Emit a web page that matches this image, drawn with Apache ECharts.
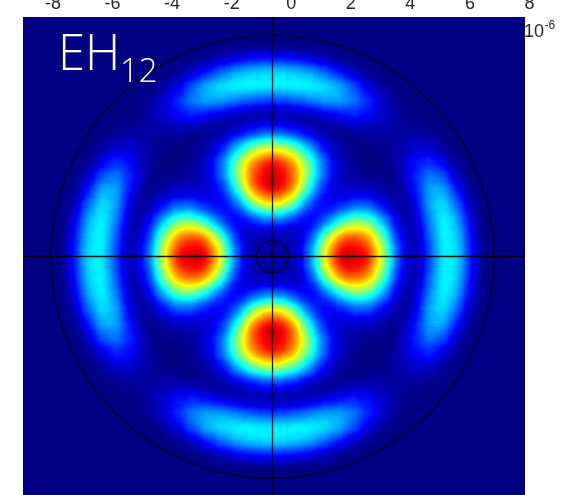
<!DOCTYPE html>
<html>
<head>
<meta charset="utf-8">
<script src="https://cdn.jsdelivr.net/npm/echarts@6/dist/echarts.min.js"></script>
<style>
  html, body { margin: 0; padding: 0; background: #ffffff; }
  #chart { width: 572px; height: 495px; }
</style>
</head>
<body>
<div id="chart"></div>
<script>
// Transverse intensity of the EH12 fibre mode (normalised to 1), sampled every
// 0.5 µm over the first quadrant: row = y index, column = x index.
// The pattern is mirror symmetric about both axes, so the other three
// quadrants reuse these rows.
const gridStep = 0.5; // µm
const intensityQuadrant = [
  [0.06, 0.06, 0.13, 0.44, 0.82, 0.97, 0.94, 0.75, 0.36, 0.09, 0.08, 0.34, 0.47, 0.26, 0.02],
  [0.06, 0.06, 0.12, 0.39, 0.74, 0.89, 0.87, 0.69, 0.32, 0.08, 0.09, 0.37, 0.46, 0.25, 0.02],
  [0.13, 0.12, 0.09, 0.21, 0.44, 0.63, 0.67, 0.52, 0.24, 0.05, 0.12, 0.39, 0.45, 0.21, 0.01],
  [0.44, 0.39, 0.21, 0.13, 0.20, 0.31, 0.39, 0.29, 0.13, 0.02, 0.18, 0.42, 0.40, 0.16, 0.00],
  [0.82, 0.74, 0.44, 0.20, 0.11, 0.14, 0.17, 0.12, 0.05, 0.04, 0.24, 0.42, 0.32, 0.08, 0.00],
  [0.97, 0.89, 0.63, 0.31, 0.14, 0.08, 0.06, 0.04, 0.01, 0.09, 0.27, 0.36, 0.21, 0.03, 0.00],
  [0.94, 0.87, 0.67, 0.39, 0.17, 0.06, 0.02, 0.01, 0.02, 0.12, 0.24, 0.24, 0.09, 0.00, 0.00],
  [0.75, 0.69, 0.52, 0.29, 0.12, 0.04, 0.01, 0.01, 0.04, 0.10, 0.16, 0.12, 0.02, 0.00, 0.00],
  [0.36, 0.32, 0.24, 0.13, 0.05, 0.01, 0.02, 0.04, 0.04, 0.07, 0.07, 0.03, 0.00, 0.00, 0.00],
  [0.09, 0.08, 0.05, 0.02, 0.04, 0.09, 0.12, 0.10, 0.07, 0.03, 0.02, 0.00, 0.00, 0.00, 0.00],
  [0.08, 0.09, 0.12, 0.18, 0.24, 0.27, 0.24, 0.16, 0.07, 0.02, 0.00, 0.00, 0.00, 0.00, 0.00],
  [0.34, 0.37, 0.39, 0.42, 0.42, 0.36, 0.24, 0.12, 0.03, 0.00, 0.00, 0.00, 0.00, 0.00, 0.00],
  [0.47, 0.46, 0.45, 0.40, 0.32, 0.21, 0.09, 0.02, 0.00, 0.00, 0.00, 0.00, 0.00, 0.00, 0.00],
  [0.26, 0.25, 0.21, 0.16, 0.08, 0.03, 0.00, 0.00, 0.00, 0.00, 0.00, 0.00, 0.00, 0.00, 0.00],
  [0.02, 0.02, 0.01, 0.00, 0.00, 0.00, 0.00, 0.00, 0.00, 0.00, 0.00, 0.00, 0.00, 0.00, 0.00]
];

// Guide rings: core boundary and the small ring at the centre (µm).
const ringRadii = [7.45, 0.54];

// Field of view of the mode plot (µm).
const planeX = [-8.39, 8.49];
const planeY = [-8.01, 8.06];

// Scale along the top.
const scaleMin = -8;
const scaleMax = 8;
const scaleStep = 2;
const scaleBase = '10';
const scaleExponent = '-6';

// Mode label.
const modeName = 'EH';
const modeIndex = '12';

// MATLAB "jet" colour map.
const JET = ['#000083', '#0000ff', '#0080ff', '#00ffff', '#80ff80',
             '#ffff00', '#ff8000', '#ff0000', '#800000'];

// The geo heat layer stamps one blurred brush per sample with source-over
// alpha, so neighbouring stamps compound. With pointSize 13 / blurSize 12 on
// a 0.5 µm lattice the brush covers roughly 0.9 of its own sample, 0.36 of
// each edge neighbour and 0.085 of each corner neighbour. Each sample's
// weight is the one whose compounded opacity equals its intensity.
const BRUSH_SHARE = [0.9, 0.36, 0.36, 0.36, 0.36, 0.085, 0.085, 0.085, 0.085];
const stackedOpacity = a => 1 - BRUSH_SHARE.reduce((p, k) => p * (1 - k * a), 1);
function heatWeight(v) {
  if (stackedOpacity(1) <= v) return 1;
  let lo = 0, hi = 1;
  for (let n = 0; n < 32; n++) {
    const mid = (lo + hi) / 2;
    if (stackedOpacity(mid) < v) lo = mid; else hi = mid;
  }
  return (lo + hi) / 2;
}

const heatData = [];
const nRows = intensityQuadrant.length;
for (let j = -(nRows - 1); j <= nRows - 1; j++) {
  const row = intensityQuadrant[Math.abs(j)];
  for (let i = -(row.length - 1); i <= row.length - 1; i++) {
    const v = row[Math.abs(i)];
    if (v > 0) heatData.push([i * gridStep, j * gridStep, heatWeight(v)]);
  }
}

// A plain rectangle as the "map": it is the plot plane itself.
echarts.registerMap('fibrePlane', {
  type: 'FeatureCollection',
  features: [{
    type: 'Feature',
    properties: { name: 'plane' },
    geometry: {
      type: 'Polygon',
      coordinates: [[
        [planeX[0], planeY[0]], [planeX[1], planeY[0]],
        [planeX[1], planeY[1]], [planeX[0], planeY[1]],
        [planeX[0], planeY[0]]
      ]]
    }
  }]
});

const chart = echarts.init(document.getElementById('chart'), null, { renderer: 'canvas' });

const axisFont = '"Liberation Sans", Arial, Helvetica, sans-serif';
const labelFont = '"Open Sans", "Noto Sans", sans-serif';

chart.setOption({
  animation: false,
  backgroundColor: '#ffffff',
  geo: {
    map: 'fibrePlane',
    roam: false,
    silent: true,
    aspectScale: 1,
    left: 23, top: 17, width: 502, height: 478,
    boundingCoords: [[planeX[0], planeY[1]], [planeX[1], planeY[0]]],
    itemStyle: { areaColor: JET[0], borderWidth: 0 },
    emphasis: { disabled: true },
    select: { disabled: true },
    label: { show: false }
  },
  grid: { left: 53, right: 42.5, top: 17, height: 10, show: false },
  xAxis: {
    type: 'value',
    position: 'top',
    min: scaleMin, max: scaleMax, interval: scaleStep,
    axisLine: { show: false },
    axisTick: { show: false },
    splitLine: { show: false },
    axisLabel: { color: '#262626', fontSize: 18, fontFamily: axisFont, margin: 13.5 }
  },
  yAxis: { type: 'value', show: false },
  visualMap: {
    type: 'continuous',
    show: false,
    min: 0, max: 1,
    seriesIndex: 0,
    inRange: { color: JET }
  },
  series: [
    {
      type: 'heatmap',
      coordinateSystem: 'geo',
      geoIndex: 0,
      data: heatData,
      pointSize: 13,
      blurSize: 12,
      minOpacity: 1,
      maxOpacity: 1,
      silent: true,
      z: 2
    },
    {
      type: 'lines',
      coordinateSystem: 'geo',
      geoIndex: 0,
      silent: true,
      z: 3,
      lineStyle: { color: '#000000', width: 1.3, opacity: 0.9, curveness: 0 },
      data: [
        { coords: [[planeX[0], 0], [planeX[1], 0]] },
        { coords: [[0, planeY[0]], [0, planeY[1]]] }
      ]
    },
    {
      type: 'custom',
      coordinateSystem: 'geo',
      geoIndex: 0,
      silent: true,
      z: 4,
      data: ringRadii.map(r => [0, 0, r]),
      renderItem: (params, api) => {
        const c = api.coord([api.value(0), api.value(1)]);
        const e = api.coord([api.value(0) + api.value(2), api.value(1)]);
        return {
          type: 'circle',
          shape: { cx: c[0], cy: c[1], r: Math.abs(e[0] - c[0]) },
          style: { fill: 'none', stroke: 'rgba(0,0,0,0.55)', lineWidth: 1.6 }
        };
      }
    }
  ],
  graphic: [
    {
      type: 'text', x: 58, y: 56, z: 10, silent: true,
      style: { text: modeName, fill: '#ffffff', font: '300 49px ' + labelFont, verticalAlign: 'middle', align: 'left' }
    },
    {
      type: 'text', x: 120, y: 72.5, z: 10, silent: true,
      style: { text: modeIndex, fill: '#ffffff', font: '300 33px ' + labelFont, verticalAlign: 'middle', align: 'left' }
    },
    {
      type: 'text', x: 524, y: 32, z: 10, silent: true,
      style: { text: scaleBase, fill: '#262626', font: '18px ' + axisFont, verticalAlign: 'middle', align: 'left' }
    },
    {
      type: 'text', x: 544.5, y: 25.5, z: 10, silent: true,
      style: { text: scaleExponent, fill: '#262626', font: '12px ' + axisFont, verticalAlign: 'middle', align: 'left' }
    }
  ]
});
</script>
</body>
</html>
